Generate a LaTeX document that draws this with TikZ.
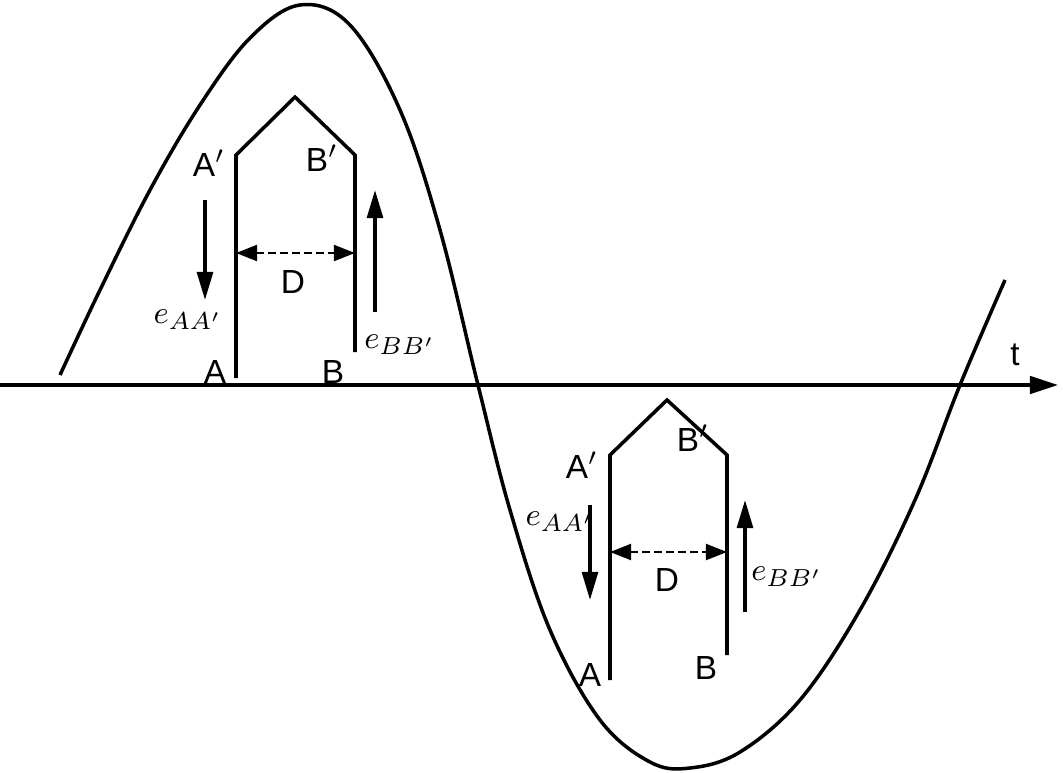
\documentclass[tikz,border=0pt]{standalone}
\usepackage{fontspec}
\setmainfont{Liberation Sans}
\usetikzlibrary{arrows.meta}
\tikzset{
  lbl/.style={font=\fontsize{9.5}{11}\selectfont},
  emf/.style={-{Triangle[length=8pt,width=4.5pt]},line width=1pt},
  gap/.style={{Triangle[length=6pt,width=4.5pt]}-{Triangle[length=6pt,width=4.5pt]},dash pattern=on 2.2pt off 1.2pt,line width=0.8pt},
  coil/.style={line width=1pt}
}
\begin{document}
\begin{tikzpicture}[x=0.01cm,y=-0.01cm]
\useasboundingbox (0,0) rectangle (1063,772);
% time axis
\coordinate (o) at (0,385);
\coordinate (tend) at (1058,385);
\draw[line width=0.9pt,-{Triangle[length=8pt,width=5pt]}] (o) -- (tend);
\node[lbl] (t) at (1015,355) {t};
% waveform
\draw[coil,smooth,tension=0.6] plot coordinates {(60,375) (100,290) (150,190) (200,105) (250,38) (300,5) (350,25) (400,110) (440,230) (478,385) (510,510) (550,630) (600,720) (650,762) (690,768) (740,752) (800,700) (860,610) (915,500) (960,385) (1005,280)};
% first coil
\coordinate (A1) at (236,378);
\coordinate (A1t) at (236,155);
\coordinate (P1) at (295,97);
\coordinate (B1t) at (355,155);
\coordinate (B1) at (355,352);
\draw[coil] (A1) -- (A1t) -- (P1) -- (B1t) -- (B1);
\coordinate (d1a) at (236,253);
\coordinate (d1b) at (355,253);
\draw[gap] (d1a) -- (d1b);
\coordinate (ea1) at (205,200);
\coordinate (ea1e) at (205,300);
\draw[emf] (ea1) -- (ea1e);
\coordinate (eb1) at (375,312);
\coordinate (eb1e) at (375,190);
\draw[emf] (eb1) -- (eb1e);
\node[lbl] (la1) at (215,372) {A};
\node[lbl] (lb1) at (333,372) {B};
\node[lbl] (la1t) at (209,163) {A$'$};
\node[lbl] (lb1t) at (322,158) {B$'$};
\node[lbl] (ld1) at (293,282) {D};
\node[lbl] (lea1) at (188,320) {$e_{AA'}$};
\node[lbl] (leb1) at (400,345) {$e_{BB'}$};
% second coil
\coordinate (A2) at (610,680);
\coordinate (A2t) at (610,455);
\coordinate (P2) at (667,400);
\coordinate (B2t) at (727,455);
\coordinate (B2) at (727,655);
\draw[coil] (A2) -- (A2t) -- (P2) -- (B2t) -- (B2);
\coordinate (d2a) at (610,552);
\coordinate (d2b) at (727,552);
\draw[gap] (d2a) -- (d2b);
\coordinate (ea2) at (590,505);
\coordinate (ea2e) at (590,600);
\draw[emf] (ea2) -- (ea2e);
\coordinate (eb2) at (745,612);
\coordinate (eb2e) at (745,500);
\draw[emf] (eb2) -- (eb2e);
\node[lbl] (la2) at (590,675) {A};
\node[lbl] (lb2) at (706,668) {B};
\node[lbl] (la2t) at (582,465) {A$'$};
\node[lbl] (lb2t) at (693,438) {B$'$};
\node[lbl] (ld2) at (667,580) {D};
\node[lbl] (lea2) at (560,522) {$e_{AA'}$};
\node[lbl] (leb2) at (787,577) {$e_{BB'}$};
\end{tikzpicture}
\end{document}
